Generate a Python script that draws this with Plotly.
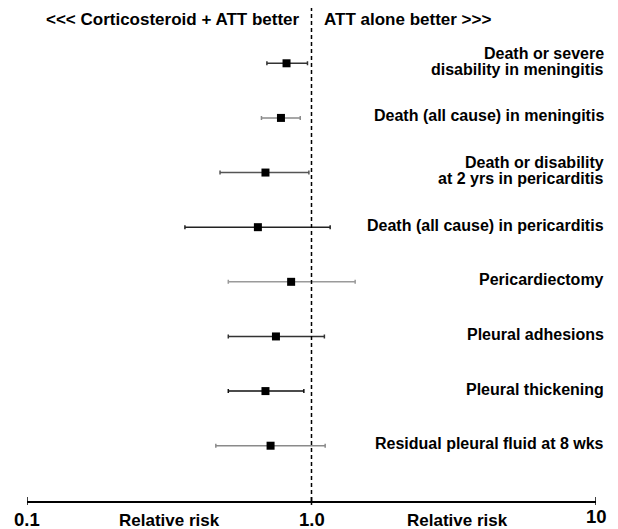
import numpy as np
import plotly.graph_objects as go

outcomes = [
    "Death or severe<br>disability in meningitis",
    "Death (all cause) in meningitis",
    "Death or disability<br>at 2 yrs in pericarditis",
    "Death (all cause) in pericarditis",
    "Pericardiectomy",
    "Pleural adhesions",
    "Pleural thickening",
    "Residual pleural fluid at 8 wks",
]
rr = [0.817, 0.781, 0.689, 0.648, 0.848, 0.750, 0.689, 0.718]
ci_low = [0.697, 0.667, 0.477, 0.359, 0.510, 0.510, 0.510, 0.461]
ci_high = [0.968, 0.913, 0.979, 1.163, 1.424, 1.110, 0.940, 1.117]
bar_colors = ["#333333", "#8a8a8a", "#555555", "#222222", "#9a9a9a", "#333333", "#111111", "#8a8a8a"]
tick_vals = [0.1, 1.0, 10]
tick_text = ["0.1", "1.0", "10"]
axis_title = "Relative risk"
axis_title_pos = [0.316, 3.27]
left_header = "<<< Corticosteroid + ATT better"
right_header = "ATT alone better >>>"

FONT = "Liberation Sans, Arial, sans-serif"
fig = go.Figure()
rows = list(range(len(outcomes)))
for i in rows:
    fig.add_trace(go.Scatter(
        x=[rr[i]], y=[i], mode="markers",
        marker=dict(symbol="square", size=8, color="black"),
        error_x=dict(type="data", symmetric=False,
                     array=[ci_high[i] - rr[i]], arrayminus=[rr[i] - ci_low[i]],
                     color=bar_colors[i], thickness=1.5, width=2),
        showlegend=False, cliponaxis=False,
    ))

fig.update_xaxes(type="log", range=[-1, 1], showgrid=False, zeroline=False,
                 showline=True, linecolor="black", linewidth=1.5,
                 tickvals=[], showticklabels=False, fixedrange=True)
fig.update_yaxes(range=[8.012, -1.012], visible=False, showgrid=False, fixedrange=True)

shapes = [dict(type="line", xref="x", yref="paper", x0=1, x1=1, y0=0, y1=1,
               line=dict(color="black", width=1.5, dash="4px,3px"))]
for t in tick_vals:
    shapes.append(dict(type="line", xref="x", yref="paper", x0=t, x1=t, y0=-0.008, y1=0.008,
                       line=dict(color="black", width=1.5)))
fig.update_layout(shapes=shapes)

ann = []
LINE_H = 16
for i in rows:
    lines = outcomes[i].split("<br>")
    n = len(lines)
    for k, line in enumerate(lines):
        offset = ((n - 1) / 2 - k) * LINE_H
        ann.append(dict(x=1, xref="paper", y=i, yref="y", xanchor="right", yanchor="middle",
                        xshift=10, yshift=2 + offset, text="<b>" + line + "</b>", showarrow=False,
                        align="right", font=dict(family=FONT, size=16, color="black")))
for t, s in zip(tick_vals, tick_text):
    ann.append(dict(x=np.log10(t), xref="x", y=0, yref="paper", yanchor="middle",
                    yshift=-18 if s != "10" else -15, text="<b>" + s + "</b>", showarrow=False,
                    font=dict(family=FONT, size=18.5, color="black")))
for t in axis_title_pos:
    ann.append(dict(x=np.log10(t), xref="x", y=0, yref="paper", yanchor="middle",
                    yshift=-19, text="<b>" + axis_title + "</b>", showarrow=False,
                    font=dict(family=FONT, size=17, color="black")))
ann.append(dict(x=0, xref="x", y=1, yref="paper", xanchor="right", yanchor="middle",
                xshift=-10, yshift=-11, text="<b>" + left_header.replace("<", "&lt;") + "</b>",
                showarrow=False, font=dict(family=FONT, size=17, color="black")))
ann.append(dict(x=0, xref="x", y=1, yref="paper", xanchor="left", yanchor="middle",
                xshift=10, yshift=-11, text="<b>" + right_header.replace(">", "&gt;") + "</b>",
                showarrow=False, font=dict(family=FONT, size=17, color="black")))
fig.update_layout(annotations=ann)

fig.update_layout(width=610, height=521, margin=dict(l=19, r=22, t=0, b=28),
                  paper_bgcolor="white", plot_bgcolor="white")
fig.write_html("out.html")
